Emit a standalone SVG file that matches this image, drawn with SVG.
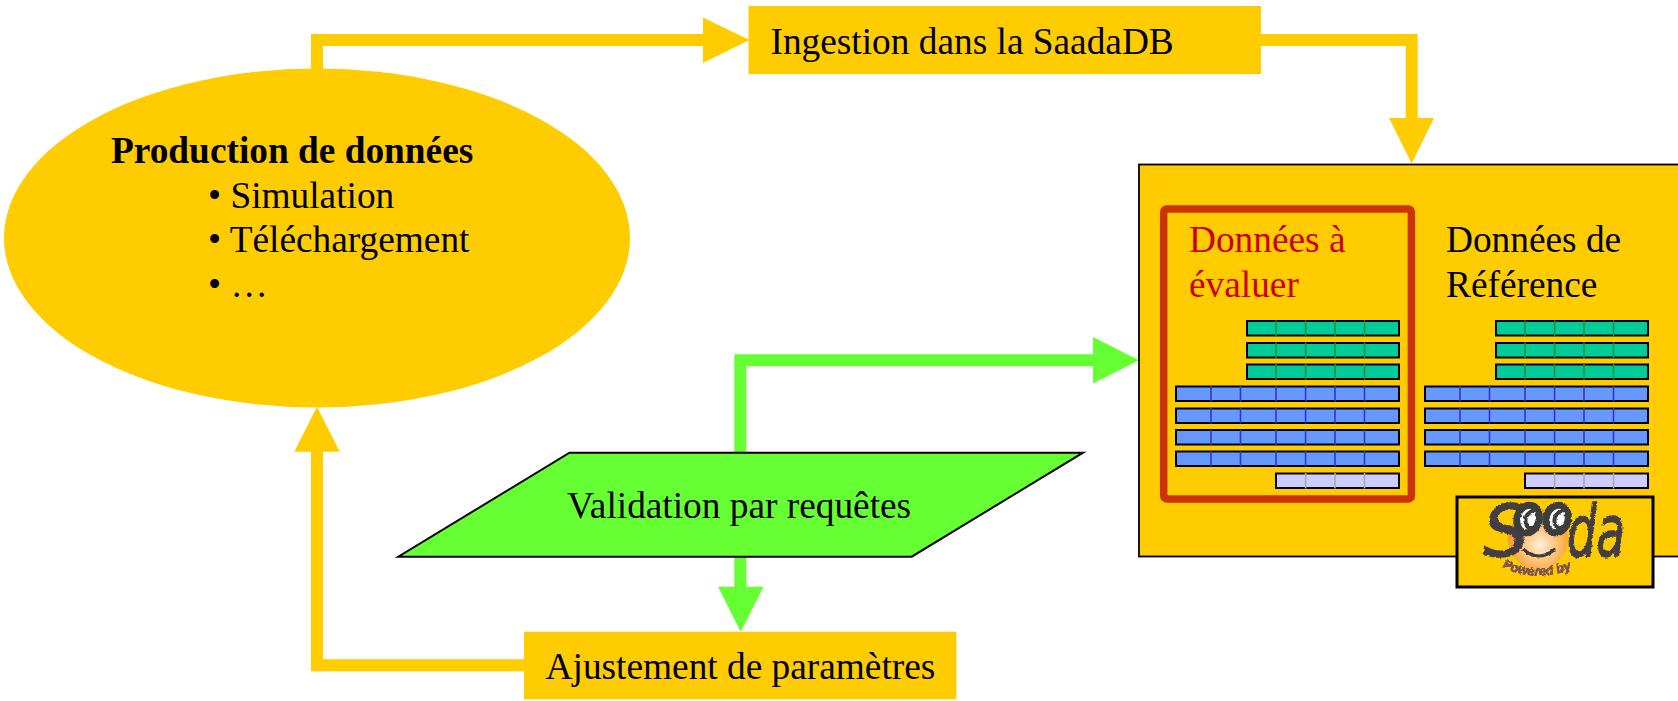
<svg xmlns="http://www.w3.org/2000/svg" xmlns:xlink="http://www.w3.org/1999/xlink" width="1678" height="701" viewBox="0 0 1678 701">
<style>
.t{font-family:"Liberation Serif","Times New Roman",serif;font-size:37.33px;fill:#000}
.y{fill:#ffcc00}
.ly{fill:none;stroke:#ffcc00;stroke-width:12}
.lg{fill:none;stroke:#66ff33;stroke-width:12}
.hy{fill:#ffcc00}
.hg{fill:#66ff33}
.row{stroke:#000;stroke-width:2}
.gr{fill:#00cc99}
.bl{fill:#6699ff}
.la{fill:#ccccff}
.dg{stroke:#2a8a3a;stroke-width:1.6}
.db{stroke:#3333cc;stroke-width:1.6}
.dl{stroke:#aaaaaa;stroke-width:1.6}
</style>
<defs>
<radialGradient id="face" cx="0.53" cy="0.6" r="0.55">
<stop offset="0" stop-color="#fff0dc"/>
<stop offset="0.55" stop-color="#ffc070"/>
<stop offset="1" stop-color="#f79a1e"/>
</radialGradient>
<filter id="rough" x="-5%" y="-5%" width="110%" height="110%">
<feTurbulence type="fractalNoise" baseFrequency="0.35" numOctaves="2" seed="4"/>
<feDisplacementMap in="SourceGraphic" scale="3" xChannelSelector="R" yChannelSelector="G"/>
</filter>
<g id="rg"><rect class="row gr" x="1247" y="321" width="152" height="14.5"/><path class="dg" d="M1276 320.5V336M1305.6 320.5V336M1335 320.5V336M1364.5 320.5V336"/></g>
<g id="rb"><rect class="row bl" x="1176" y="386.5" width="223" height="14.5"/><path class="db" d="M1211 386V401.5M1240.5 386V401.5M1276 386V401.5M1305.6 386V401.5M1335 386V401.5M1364.5 386V401.5"/></g>
<g id="table">
<use xlink:href="#rg"/>
<use xlink:href="#rg" y="22"/>
<use xlink:href="#rg" y="43.5"/>
<use xlink:href="#rb"/>
<use xlink:href="#rb" y="22"/>
<use xlink:href="#rb" y="43.5"/>
<use xlink:href="#rb" y="65"/>
<rect class="row la" x="1276" y="473.5" width="123" height="14.5"/>
<path class="dl" d="M1305.6 473V488.5M1335 473V488.5M1364.5 473V488.5"/>
</g>
<path id="pw" d="M1502 567Q1536 584 1574 568"/>
</defs>
<g id="connectors">
<path class="ly" d="M317 70V40H704"/>
<polygon class="hy" points="703,17.5 749.5,40 703,63"/>
<path class="ly" d="M1261 40H1411.7V120"/>
<polygon class="hy" points="1389,118 1434,118 1411.7,163.5"/>
<path class="ly" d="M524 665.3H317V450"/>
<polygon class="hy" points="294.3,451.7 339.8,451.7 317,406.7"/>
<path class="lg" d="M740.3 453V360.3H1094"/>
<polygon class="hg" points="1093,337 1139,360.3 1093,383.5"/>
<path class="lg" d="M740.3 557V588"/>
<polygon class="hg" points="718,586.7 763.5,586.7 740.7,631.7"/>
</g>
<g id="production">
<ellipse class="y" cx="317" cy="238" rx="313" ry="169.5"/>
<text class="t" x="111" y="163" font-weight="bold">Production de données</text>
<text class="t" x="208" y="208">• Simulation</text>
<text class="t" x="208" y="252">• Téléchargement</text>
<text class="t" x="208" y="297">• …</text>
</g>
<g id="ingestion">
<rect class="y" x="748.5" y="6" width="512.5" height="68"/>
<text class="t" x="770.5" y="54">Ingestion dans la SaadaDB</text>
</g>
<g id="saadadb">
<rect x="1139" y="164.5" width="545" height="392" fill="#ffcc00" stroke="#000" stroke-width="1.8"/>
<rect x="1163.7" y="209" width="247.7" height="290" rx="3" fill="none" stroke="#cc3300" stroke-width="7.5"/>
<text class="t" x="1189" y="252" style="fill:#cc0000">Données à</text>
<text class="t" x="1189" y="297" style="fill:#cc0000">évaluer</text>
<text class="t" x="1446" y="252">Données de</text>
<text class="t" x="1446" y="297">Référence</text>
<use xlink:href="#table"/>
<use xlink:href="#table" x="249"/>
</g>
<g id="logo">
<rect x="1457" y="497" width="196" height="90" fill="#ffcc00" stroke="#000" stroke-width="3"/>
<circle cx="1538" cy="539" r="30" fill="url(#face)"/>
<g filter="url(#rough)">
<g font-family="'DejaVu Sans',sans-serif" font-style="italic" fill="#443c44" stroke="#443c44" stroke-width="1.5">
<text x="1483" y="556" font-size="72">S</text>
<text x="1567" y="556" font-size="72" textLength="58" lengthAdjust="spacingAndGlyphs">da</text>
</g>
<g fill="#fff" stroke="#3c3c3c" stroke-width="7">
<ellipse cx="1528" cy="519" rx="11" ry="14" transform="rotate(15 1528 519)"/>
<ellipse cx="1557" cy="519" rx="11" ry="14" transform="rotate(15 1557 519)"/>
</g>
<path d="M1536 509Q1523 514 1526 524Q1528 530 1535 527M1565 509Q1552 514 1555 524Q1557 530 1564 527" fill="none" stroke="#3c3c3c" stroke-width="4"/>
<path d="M1523 549Q1539 563 1555 549" fill="none" stroke="#3c3c3c" stroke-width="3"/>
<text font-family="'Liberation Sans',sans-serif" font-weight="bold" font-style="italic" font-size="13" fill="#7a4a60" stroke="#7a4a60" stroke-width="0.6"><textPath xlink:href="#pw" textLength="72">Powered by</textPath></text>
</g>
</g>
<g id="validation">
<polygon points="569.5,452.7 1083,452.7 911.7,556.7 398.3,556.7" fill="#66ff33" stroke="#000" stroke-width="2"/>
<text class="t" x="567" y="518">Validation par requêtes</text>
</g>
<g id="ajustement">
<rect class="y" x="524" y="631.7" width="432.3" height="67.6"/>
<text class="t" x="545.6" y="679">Ajustement de paramètres</text>
</g>
</svg>
